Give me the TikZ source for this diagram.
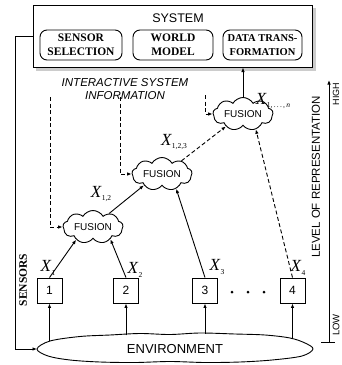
\documentclass[tikz,border=0pt]{standalone}
\usepackage{fontspec}
\setmainfont{Liberation Serif}
\setsansfont{Liberation Sans}
\usetikzlibrary{shapes.symbols,shapes.geometric,arrows.meta,calc}

\begin{document}
\begin{tikzpicture}[x=1pt,y=-1pt,
  every node/.style={font=\sffamily},
  arr/.style={line width=0.9pt,-{Latex[length=4.5pt,width=3.5pt]}},
  dashline/.style={arr,dash pattern=on 4pt off 2.5pt},
  fusion/.style={cloud,cloud puffs=9,cloud puff arc=120,cloud ignores aspect,
    draw,line width=0.9pt,fill=white,minimum width=60pt,minimum height=33pt,
    inner sep=0pt,font=\sffamily\fontsize{10}{11}\selectfont},
  sensorbox/.style={draw,line width=0.9pt,minimum size=25pt,inner sep=0pt,
    font=\sffamily\fontsize{12}{12}\selectfont},
  subbox/.style={draw,rounded corners=7pt,line width=0.9pt,minimum height=30pt,
    align=center,inner sep=0pt},
  xlab/.style={inner sep=0pt,font=\rmfamily\fontsize{17}{17}\selectfont},
]
\newcommand{\xsub}[1]{\textit{X}\raisebox{-3.5pt}{\fontsize{7.5}{7.5}\selectfont #1}}
\useasboundingbox (0,0) rectangle (341,365);

% system block with its three components
\fill[gray!40] (36,8) rectangle (315.5,70.5);
\node[draw,line width=1pt,fill=white,minimum width=279pt,minimum height=62pt,inner sep=0pt]
  (sys) at (172.5,36) {};
\node[font=\sffamily\fontsize{12.5}{13}\selectfont] (systitle) at (178,18) {SYSTEM};
\node[subbox,minimum width=82pt,font=\bfseries\fontsize{11.5}{14}\selectfont] (sel) at (81,45) {SENSOR\\SELECTION};
\node[subbox,minimum width=80pt,font=\bfseries\fontsize{11.5}{14}\selectfont] (wm) at (173,45) {WORLD\\MODEL};
\node[subbox,minimum width=79pt,font=\bfseries\fontsize{10.5}{14}\selectfont] (dt) at (262.5,45) {DATA TRANS-\\FORMATION};

\node[align=center,font=\sffamily\itshape\fontsize{11.5}{12.5}\selectfont] (isi) at (125,89)
  {INTERACTIVE SYSTEM\\INFORMATION};

% fusion stages
\node[fusion] (f1) at (93,227) {FUSION};
\node[fusion] (f2) at (162,174) {FUSION};
\node[fusion] (f3) at (243,114) {FUSION};

% sensors
\node[sensorbox] (s1) at (49.5,290.5) {1};
\node[sensorbox] (s2) at (126,290.5) {2};
\node[sensorbox] (s3) at (205,290.5) {3};
\node[sensorbox] (s4) at (292.5,290.5) {4};
\foreach \x in {232,248,264} \fill (\x,292) circle (1.5pt);

% environment: a wavy, lens-shaped outline around its label
\node[ellipse,minimum width=276pt,minimum height=30pt,inner sep=0pt,
  font=\sffamily\fontsize{13}{13}\selectfont] (env) at (175,349) {ENVIRONMENT};
\draw[line width=0.9pt] plot[smooth cycle,tension=0.55] coordinates {
  (37,349) (50,341) (80,336.5) (110,335) (140,333.5) (170,334.5) (200,333)
  (235,334) (265,335) (290,338) (305,343) (313,349)
  (302,356) (272,360) (240,362) (205,362.5) (170,361.5) (135,362.5)
  (100,362) (70,360) (48,356)};

% environment feeds the sensors
\draw[arr] ($(s1.south |- env.north)+(0,7)$) -- (s1.south);
\draw[arr] ($(s2.south |- env.north)+(0,1.5)$) -- (s2.south);
\draw[arr] ($(s3.south |- env.north)+(0,0)$) -- (s3.south);
\draw[arr] ($(s4.south |- env.north)+(0,5)$) -- (s4.south);

% sensor outputs into the fusion tree
\draw[arr] (s1.north) -- (f1.217);
\draw[arr] (s2.north) -- (f1.325);
\draw[arr] (f1.40) -- (f2.212);
\draw[arr] (s3.north) -- (f2.314);
\draw[dashline] (f2.34) -- (f3.216);
\draw[dashline] (s4.north) -- (f3.310);
\draw[arr] (f3.north) -- (f3.north |- sys.south);

% labels of the data streams
\node[xlab] (x1) at (48,268) {\xsub{1}};
\node[xlab] (x2) at (135,270) {\xsub{2}};
\node[xlab] (x3) at (217,267) {\xsub{3}};
\node[xlab] (x4) at (298,268) {\xsub{4}};
\node[xlab] (x12) at (101,194) {\xsub{1,2}};
\node[xlab] (x123) at (174,142) {\xsub{1,2,3}};
\node[xlab] (x1n) at (273,101) {\xsub{1,\,.\,.\,.\,,\,\textit{n}}};

% interactive system information paths
\coordinate (d1) at (50,97);
\coordinate (d2) at (120,97);
\coordinate (d3) at (205,95);
\draw[dashline] (d1) |- (f1.west);
\draw[dashline] (d2) |- (f2.west);
\draw[dashline] (d3) |- (f3.west);

% sensor selection acts on the sensors / environment
\coordinate (bend) at (15,0);
\draw[arr] (sys.west) -- (bend |- sys.west) -- (bend |- env.west) -- (37,349);
\node[rotate=90,font=\rmfamily\bfseries\fontsize{11.5}{12}\selectfont] (sens) at (23,280) {SENSORS};

% level of representation scale
\coordinate (lowend) at (329,342);
\coordinate (highend) at (329,80);
\draw[arr] (lowend) -- (highend);
\draw[line width=0.9pt] ($(lowend)+(-8,0)$) -- ($(lowend)+(6,0)$);
\node[rotate=90,font=\sffamily\fontsize{11.5}{12}\selectfont] (lvl) at (316,177) {LEVEL OF REPRESENTATION};
\node[rotate=90,font=\sffamily\fontsize{9}{10}\selectfont] (hi) at (336,94) {HIGH};
\node[rotate=90,font=\sffamily\fontsize{9.5}{10}\selectfont] (lo) at (336,325) {LOW};
\end{tikzpicture}
\end{document}
